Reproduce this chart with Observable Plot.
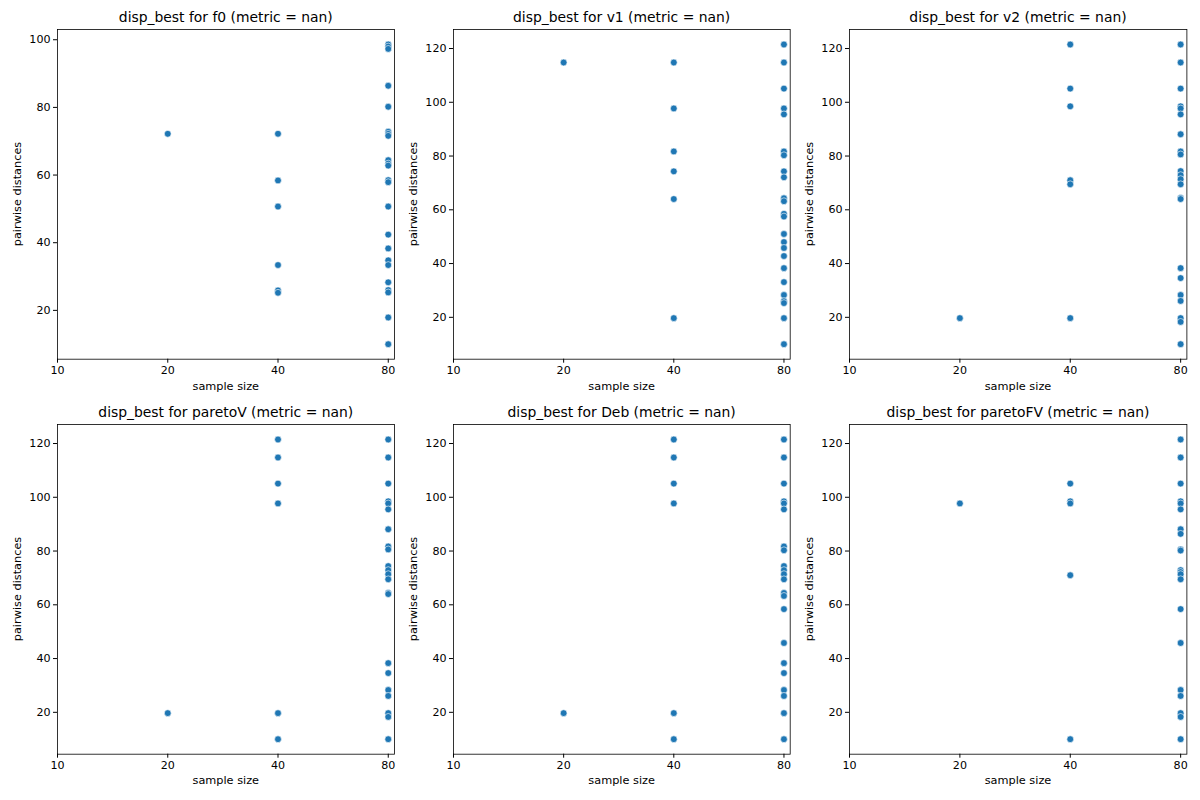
<!DOCTYPE html>
<html>
<head>
<meta charset="utf-8">
<script src="https://cdn.jsdelivr.net/npm/d3@7"></script>
<script src="https://cdn.jsdelivr.net/npm/@observablehq/plot@0.6"></script>
<style>
  html, body { margin: 0; padding: 0; background: #ffffff; }
  #fig { position: relative; width: 1200px; height: 800px; background: #ffffff; font-family: "DejaVu Sans", sans-serif; color: #000; }
  #fig .panel { position: absolute; }
  #fig .txt { position: absolute; white-space: nowrap; text-align: center; }
  #fig .title { font-size: 13.9px; line-height: 16px; }
  #fig .axlabel { font-size: 11.3px; line-height: 14px; }
</style>
</head>
<body>
<div id="fig"></div>
<script>
// Sample sizes on the x axis (log2 spacing) and their tick labels
const sampleSizes = [20, 40, 80];
const xTicks = [10, 20, 40, 80];
const xDomain = [10, 83.2];

// Panel names, in reading order (row by row)
const problems = ["f0", "v1", "v2", "paretoV", "Deb", "paretoFV"];

// Pairwise distances of the best dispersed sets, one list per sample size (20, 40, 80)
const f0Dist = [
  [72.2],
  [72.2, 58.4, 50.7, 33.4, 25.9, 25.2],
  [98.6, 98.0, 97.3, 86.4, 80.2, 72.8, 72.2, 71.6, 64.4, 63.4, 62.8, 58.5, 57.9, 50.7, 42.4, 38.3, 34.8, 33.4, 28.3, 26.0, 25.3, 17.9, 10.0]
];
const v1Dist = [
  [114.8],
  [114.8, 97.7, 81.7, 74.3, 64.0, 19.7],
  [121.5, 114.8, 105.1, 97.7, 95.5, 81.7, 80.3, 74.3, 72.1, 64.3, 63.2, 58.5, 57.5, 51.0, 48.0, 45.8, 42.8, 38.3, 33.1, 28.3, 26.0, 25.3, 19.7, 10.0]
];
const v2Dist = [
  [19.7],
  [121.5, 105.1, 98.5, 71.0, 69.5, 19.7],
  [121.5, 114.8, 105.1, 98.5, 97.7, 95.5, 88.1, 81.7, 80.6, 74.4, 72.9, 71.4, 69.5, 64.4, 64.0, 38.3, 34.6, 28.3, 26.1, 19.7, 18.3, 10.0]
];
const paretoVDist = [
  [19.7],
  [121.5, 114.8, 105.1, 97.7, 19.7, 10.0],
  [121.5, 114.8, 105.1, 98.5, 97.7, 95.5, 88.1, 81.7, 80.6, 74.4, 72.9, 71.4, 69.5, 64.4, 64.0, 38.3, 34.6, 28.3, 26.1, 19.7, 18.3, 10.0]
];
const debDist = [
  [19.7],
  [121.5, 114.8, 105.1, 97.7, 19.7, 10.0],
  [121.5, 114.8, 105.1, 98.5, 97.7, 95.5, 81.7, 80.3, 74.4, 72.9, 71.4, 69.5, 64.4, 63.3, 58.4, 45.8, 38.3, 34.6, 28.3, 26.1, 19.7, 10.0]
];
const paretoFVDist = [
  [97.7],
  [105.1, 98.5, 97.7, 71.0, 10.0],
  [121.5, 114.8, 105.1, 98.5, 97.7, 95.5, 88.1, 86.4, 80.6, 80.2, 72.9, 72.2, 71.4, 69.5, 58.4, 45.8, 28.3, 26.1, 19.7, 18.3, 10.0]
];

// Y tick values per panel
const yTicksF0 = [20, 40, 60, 80, 100];
const yTicksOther = [20, 40, 60, 80, 100, 120];

const distances = [f0Dist, v1Dist, v2Dist, paretoVDist, debDist, paretoFVDist];
const yTickSets = [yTicksF0, yTicksOther, yTicksOther, yTicksOther, yTicksOther, yTicksOther];

// Layout of the 2x3 grid of axes frames (pixels)
const frameLefts = [57.3, 453.3, 849.3];
const frameWidths = [337, 336.7, 337.4];
const frameTops = [29.3, 423.7];
const frameHeight = 329.7;
const mL = 50, mR = 10, mT = 5, mB = 40;

const fig = document.getElementById("fig");

function addText(cls, text, left, top, width, rotate) {
  const d = document.createElement("div");
  d.className = "txt " + cls;
  d.textContent = text;
  d.style.left = left + "px";
  d.style.top = top + "px";
  d.style.width = width + "px";
  if (rotate) d.style.transform = "rotate(-90deg)";
  fig.appendChild(d);
}

problems.forEach((name, i) => {
  const row = Math.floor(i / 3), col = i % 3;
  const fl = frameLefts[col], fw = frameWidths[col], ft = frameTops[row];

  const rows = [];
  distances[i].forEach((list, k) => list.forEach(d => rows.push({n: sampleSizes[k], d})));

  // matplotlib-style 5% autoscale margin on the value axis
  const [lo, hi] = d3.extent(rows, r => r.d);
  const pad = 0.05 * (hi - lo);

  const chart = Plot.plot({
    width: fw + mL + mR,
    height: frameHeight + mT + mB,
    marginLeft: mL, marginRight: mR, marginTop: mT, marginBottom: mB,
    style: {fontFamily: "DejaVu Sans", fontSize: "11.1px", color: "#000", background: "transparent", overflow: "visible"},
    x: {type: "log", base: 2, domain: xDomain, label: null},
    y: {domain: [lo - pad, hi + pad], label: null},
    marks: [
      Plot.axisX({ticks: xTicks, tickFormat: d => String(d), tickSize: 4, tickPadding: 3, label: null, stroke: "#000"}),
      Plot.axisY({ticks: yTickSets[i], tickFormat: d => String(d), tickSize: 4, tickPadding: 3, label: null, stroke: "#000"}),
      Plot.dot(rows, {x: "n", y: "d", r: 3.4, fill: "#1f77b4", stroke: "#ffffff", strokeWidth: 0.6}),
      Plot.frame({stroke: "#000", strokeWidth: 0.8})
    ]
  });
  chart.classList.add("panel");
  chart.style.left = (fl - mL) + "px";
  chart.style.top = (ft - mT) + "px";
  fig.appendChild(chart);

  const titleTop = row === 0 ? 9.3 : 403.7;
  addText("title", `disp_best for ${name} (metric = nan)`, fl, titleTop, fw);
  const xlabTop = ft + frameHeight + 21;
  addText("axlabel", "sample size", fl, xlabTop, fw);
  const cx = fl - 39.5, cy = ft + frameHeight / 2;
  addText("axlabel", "pairwise distances", cx - 80, cy - 7, 160, true);
});
</script>
</body>
</html>
